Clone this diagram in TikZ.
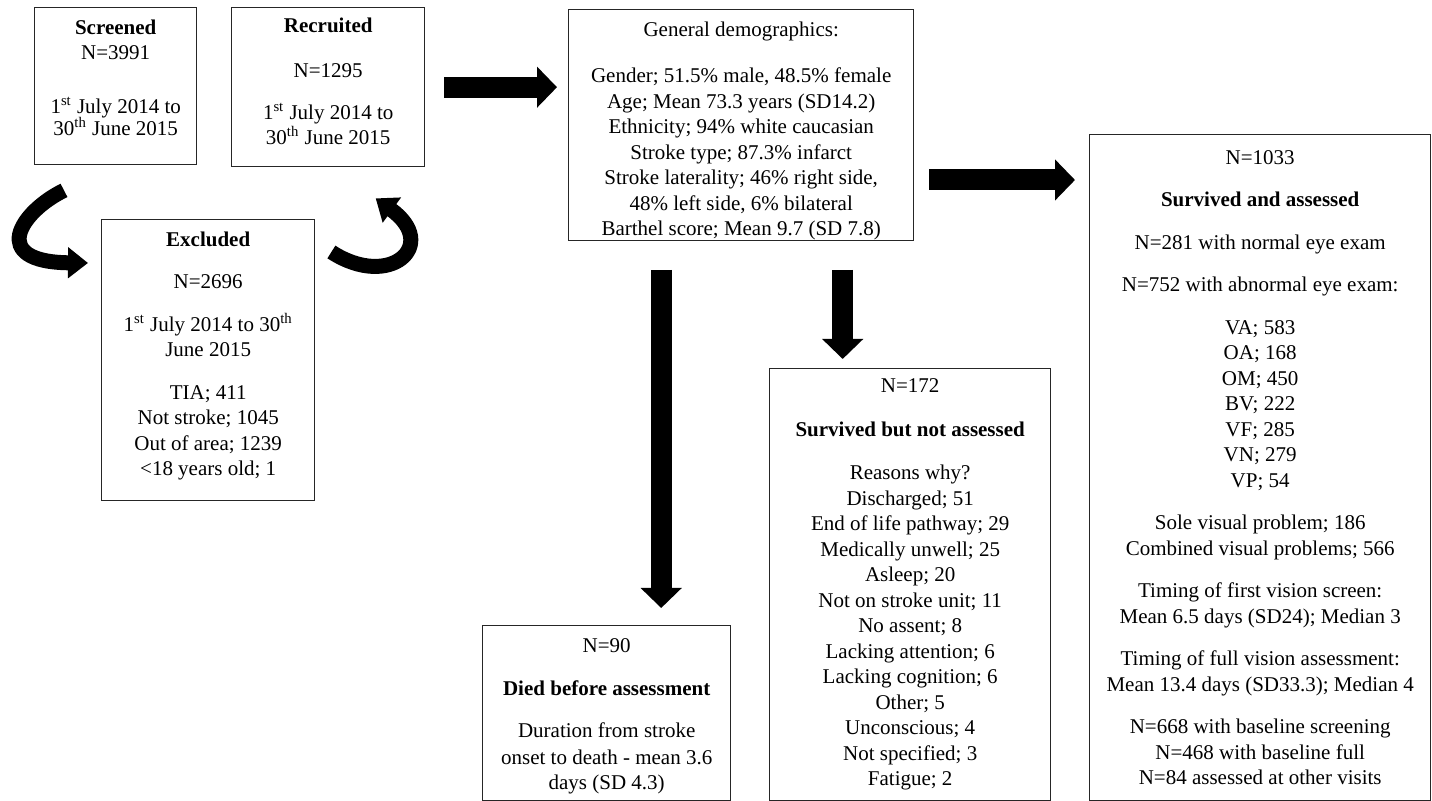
\documentclass[tikz,border=0pt]{standalone}
\usepackage{fontspec}
\setmainfont{Liberation Serif}
\usepackage{tikz}
\usetikzlibrary{arrows.meta}
\newcommand{\padtop}[1]{\rule{0pt}{#1}}
\newcommand{\padbot}[1]{\rule[-#1]{0pt}{0pt}}
\tikzset
{
    flowbox/.style   = {draw=black!85, line width=0.7pt, align=center, inner sep=0pt, anchor=north west},
    fatarrow/.style  = {line width=10.5pt, -{Triangle[length=10pt, width=20pt]}},
    bendarrow/.style = {line width=7.5pt, -{Triangle[length=10pt, width=15pt]}}
}

\begin{document}
\begin{tikzpicture}[x=0.5pt, y=-0.5pt, font=\fontsize{10.5}{12.75}\selectfont]
    \useasboundingbox (0,0) rectangle (1432,801);
    \node [flowbox, minimum width=81pt, minimum height=78.5pt] (scr) at (34,7)
        {\textbf{Screened} \\ N=3991 \\[14.25pt] 1\textsuperscript{st} July 2014 to \\[-1.75pt] 30\textsuperscript{th} June 2015\padbot{8.5pt}};
    \node [flowbox, minimum width=96.5pt, minimum height=79.5pt] (rec) at (231,7)
        {\textbf{Recruited} \\[10pt] N=1295 \\[8pt] 1\textsuperscript{st} July 2014 to \\ 30\textsuperscript{th} June 2015\padbot{6pt}};
    \node [flowbox, minimum width=106.5pt, minimum height=140.5pt] (exc) at (101,219)
        {\textbf{Excluded} \\[8.5pt] N=2696 \\[8.5pt] 1\textsuperscript{st} July 2014 to 30\textsuperscript{th} \\ June 2015 \\[8.5pt]
         TIA; 411 \\ Not stroke; 1045 \\ Out of area; 1239 \\ <18 years old; 1\padbot{6.5pt}};
    \node [flowbox, minimum width=172.5pt, minimum height=114pt] (dem) at (568,9)
        {\padtop{13.3pt}General demographics: \\[10.5pt]
         Gender; 51.5\% male, 48.5\% female \\ Age; Mean 73.3 years (SD14.2) \\ Ethnicity; 94\% white caucasian \\
         Stroke type; 87.3\% infarct \\ Stroke laterality; 46\% right side, \\ 48\% left side, 6\% bilateral \\
         Barthel score; Mean 9.7 (SD 7.8)};
    \node [flowbox, minimum width=124pt, minimum height=87.5pt] (died) at (482,625)
        {\padtop{10.5pt}N=90 \\[8.5pt] \textbf{Died before assessment} \\[8.5pt] Duration from stroke \\[0.5pt] onset to death - mean 3.6 \\ days (SD 4.3)};
    \node [flowbox, minimum width=140.5pt, minimum height=216pt] (notass) at (769,368)
        {N=172 \\[9pt] \textbf{Survived but not assessed} \\[9pt]
         Reasons why? \\ Discharged; 51 \\ End of life pathway; 29 \\ Medically unwell; 25 \\ Asleep; 20 \\
         Not on stroke unit; 11 \\ No assent; 8 \\ Lacking attention; 6 \\ Lacking cognition; 6 \\ Other; 5 \\
         Unconscious; 4 \\ Not specified; 3 \\ Fatigue; 2};
    \node [flowbox, minimum width=170.5pt, minimum height=333pt] (ass) at (1089,134)
        {N=1033 \\[8.5pt] \textbf{Survived and assessed} \\[8.5pt] N=281 with normal eye exam \\[8.5pt]
         N=752 with abnormal eye exam: \\[8.5pt]
         VA; 583 \\ OA; 168 \\ OM; 450 \\ BV; 222 \\ VF; 285 \\ VN; 279 \\ VP; 54 \\[8.5pt]
         Sole visual problem; 186 \\ Combined visual problems; 566 \\[8.5pt]
         Timing of first vision screen: \\ Mean 6.5 days (SD24); Median 3 \\[8.5pt]
         Timing of full vision assessment: \\ Mean 13.4 days (SD33.3); Median 4 \\[8.5pt]
         N=668 with baseline screening \\ N=468 with baseline full \\ N=84 assessed at other visits};

    \draw [fatarrow, shorten <=9.5pt, shorten >=5.5pt] (rec.east) -- (rec.east -| dem.west);
    \draw [fatarrow, shorten <=7.5pt, shorten >=7pt] ([yshift=-27.5pt]dem.east) -- ([yshift=-27.5pt]dem.east -| ass.west);
    \draw [fatarrow, shorten <=14.5pt, shorten >=8.5pt] ([xshift=-40pt]dem.south) -- ([xshift=-40pt]dem.south |- died.north);
    \draw [fatarrow, shorten <=14.5pt, shorten >=4.5pt] ([xshift=50.75pt]dem.south) -- ([xshift=50.75pt]dem.south |- notass.north);
    \draw [bendarrow] ([shift={(30,25)}]scr.south west) .. controls (20,212) and (-12,262) .. ([shift={(-13,44)}]exc.north west);
    \draw [bendarrow] ([shift={(16,33)}]exc.north east) .. controls (390,290) and (440,245) .. ([shift={(47.5,31)}]rec.south);
\end{tikzpicture}
\end{document}
